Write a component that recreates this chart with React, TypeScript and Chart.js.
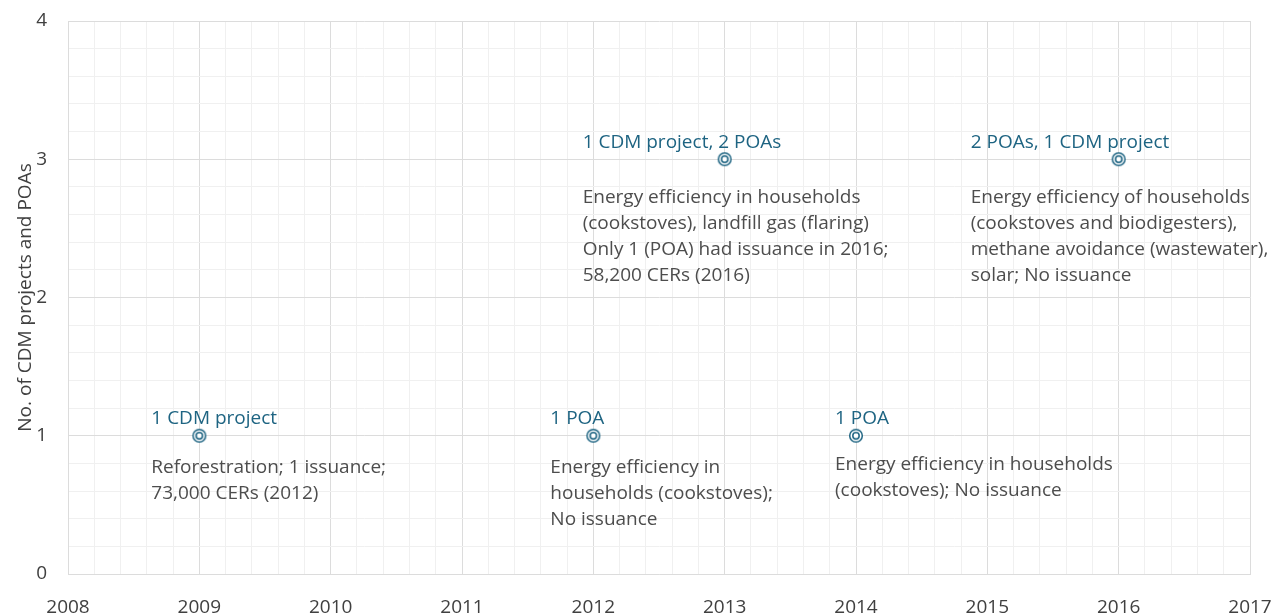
import { useEffect, useRef } from 'react';
import { Chart, registerables } from 'chart.js';

Chart.register(...registerables);

// ---- Data ----
const years = [2009, 2012, 2013, 2014, 2016];
const counts = [1, 1, 3, 1, 3];
const headlines = [
  '1 CDM project',
  '1 POA',
  '1 CDM project, 2 POAs',
  '1 POA',
  '2 POAs, 1 CDM project',
];
const descriptions = [
  ['Reforestration; 1 issuance;', '73,000 CERs (2012)'],
  ['Energy efficiency in', 'households (cookstoves);', 'No issuance'],
  [
    'Energy efficiency in households',
    '(cookstoves), landfill gas (flaring)',
    'Only 1 (POA) had issuance in 2016;',
    '58,200 CERs (2016)',
  ],
  ['Energy efficiency in households', '(cookstoves); No issuance'],
  [
    'Energy efficiency of households',
    '(cookstoves and biodigesters),',
    'methane avoidance (wastewater),',
    'solar; No issuance',
  ],
];
const xMin = 2008;
const xMax = 2017;
const yMin = 0;
const yMax = 4;
const yTitle = 'No. of CDM projects and POAs';

// ---- Label placement (style) ----
const labelDx = [-48, -43, -142, -21, -148];
const descDy = [32, 32, 38, 29, 38];
const headDy = -17;
const lineH = 26;

const BLUE = '#1e6482';
const GREY_TEXT = '#4d4d4d';
const FONT = '"Open Sans", "Noto Sans", sans-serif';

const isInt = (v: number) => Math.abs(v - Math.round(v)) < 1e-6;

function makeMarker(color: string) {
  const c = document.createElement('canvas');
  c.width = 18;
  c.height = 18;
  const g = c.getContext('2d')!;
  g.strokeStyle = color;
  g.lineWidth = 1.5;
  g.fillStyle = '#ffffff';
  g.beginPath();
  g.arc(9, 9, 6.3, 0, Math.PI * 2);
  g.fill();
  g.stroke();
  g.beginPath();
  g.arc(9, 9, 3.2, 0, Math.PI * 2);
  g.stroke();
  return c;
}

const annotationPlugin = {
  id: 'annotations',
  afterDatasetsDraw(chart: any) {
    const meta = chart.getDatasetMeta(0);
    const ctx = chart.ctx;
    ctx.save();
    ctx.textBaseline = 'middle';
    ctx.textAlign = 'left';
    meta.data.forEach((pt: any, i: number) => {
      const x = pt.x + labelDx[i];
      ctx.font = `19px ${FONT}`;
      ctx.fillStyle = BLUE;
      ctx.fillText(headlines[i], x, pt.y + headDy);
      ctx.fillStyle = GREY_TEXT;
      descriptions[i].forEach((line, j) => {
        ctx.fillText(line, x, pt.y + descDy[i] + j * lineH);
      });
    });
    ctx.restore();
  },
};

export default function App() {
  const ref = useRef<HTMLCanvasElement | null>(null);
  useEffect(() => {
    if (!ref.current) return;
    const marker = makeMarker(BLUE);
    const gridColor = (c: any) =>
      c.tick && isInt(c.tick.value) ? '#dcdcdc' : '#f0f0f0';
    const chart = new Chart(ref.current, {
      type: 'scatter',
      data: {
        datasets: [
          {
            data: years.map((y, i) => ({ x: y, y: counts[i] })),
            pointStyle: marker as any,
            pointRadius: 9,
            borderColor: BLUE,
            backgroundColor: '#fff',
          },
        ],
      },
      options: {
        animation: false,
        responsive: true,
        maintainAspectRatio: false,
        layout: { padding: { top: 21, right: 23, left: 0, bottom: 0 } },
        plugins: {
          legend: { display: false },
          tooltip: { enabled: false },
        },
        scales: {
          x: {
            type: 'linear',
            min: xMin,
            max: xMax,
            afterFit: (s: any) => {
              s.height = 41;
              s.paddingLeft = 0;
              s.paddingRight = 0;
            },
            border: { color: '#dcdcdc' },
            grid: { color: gridColor, drawTicks: false, lineWidth: 1 },
            ticks: {
              stepSize: 0.2,
              autoSkip: false,
              maxRotation: 0,
              padding: 22,
              color: '#404040',
              font: { family: FONT, size: 19 },
              callback: (v: any) => (isInt(Number(v)) ? String(Math.round(Number(v))) : ''),
            },
          },
          y: {
            min: yMin,
            max: yMax,
            afterFit: (s: any) => {
              s.width = 68;
              s.paddingTop = 0;
              s.paddingBottom = 0;
            },
            border: { color: '#dcdcdc' },
            grid: { color: gridColor, drawTicks: false, lineWidth: 1 },
            ticks: {
              stepSize: 0.2,
              autoSkip: false,
              padding: 21,
              color: '#404040',
              font: { family: FONT, size: 19 },
              callback: (v: any) => (isInt(Number(v)) ? String(Math.round(Number(v))) : ''),
            },
            title: {
              display: true,
              text: yTitle,
              color: '#404040',
              font: { family: FONT, size: 19 },
              padding: { top: 14, bottom: 0 },
            },
          },
        },
      },
      plugins: [annotationPlugin],
    });
    return () => chart.destroy();
  }, []);
  return (
    <div style={{ position: 'fixed', left: 0, top: 0, width: 1273, height: 615 }}>
      <canvas ref={ref} />
    </div>
  );
}
